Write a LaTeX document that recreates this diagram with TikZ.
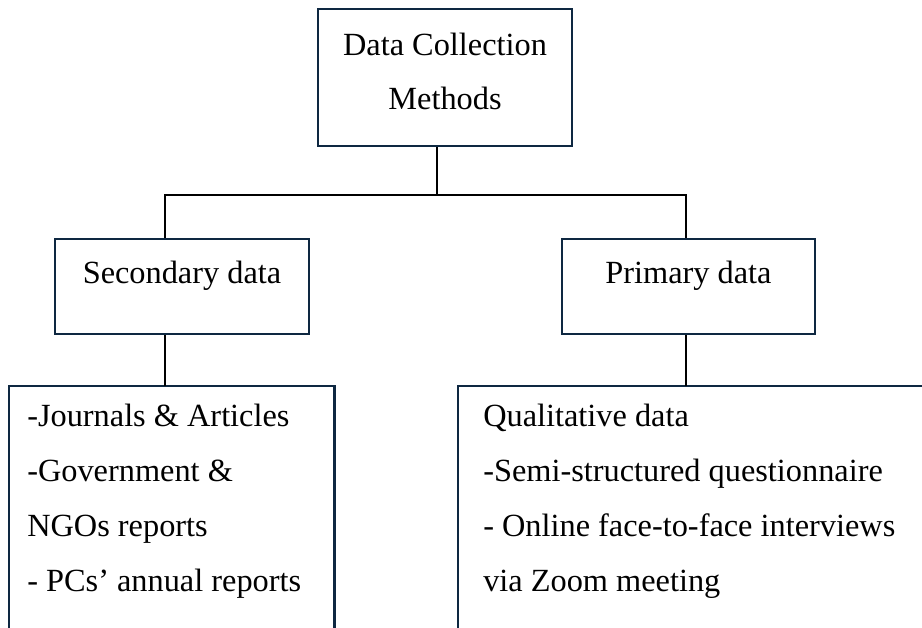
\documentclass[tikz,border=0pt]{standalone}
\usepackage{fontspec}
\setmainfont{Liberation Serif}
\usepackage{tikz}
\usetikzlibrary{positioning, calc}
\definecolor{BoxNavy}{HTML}{0E2841}

\begin{document}
\begin{tikzpicture}[node distance=1cm]
        \tikzstyle{head}  = [rectangle, draw=BoxNavy, line width=1.8pt, minimum width=6.35cm, inner ysep=0pt, text height=2.5cm, text depth=0.925cm, align=center, font=\fontsize{23}{38}\selectfont]
        \tikzstyle{kind}  = [rectangle, draw=BoxNavy, line width=1.8pt, minimum width=6.35cm, inner ysep=0pt, text height=1.1cm, text depth=1.275cm, font=\fontsize{23}{38}\selectfont]
        \tikzstyle{items} = [rectangle, anchor=north west, inner xsep=0.45cm, inner ysep=0.45cm, align=left, execute at begin node={\spaceskip=0pt\relax}, font=\fontsize{23}{39}\selectfont]
        \tikzstyle{frame} = [draw=BoxNavy, line width=1.8pt]
        \tikzstyle{link}  = [draw=black, line width=1.3pt]

        \useasboundingbox (0,0) rectangle (23.05,-15.7);

        % Boxes
        \node[head] (dcm) at (11.125,-1.9375) {Data Collection\\ Methods};
        \node[kind] (sec) at (4.55,-7.1625) {Secondary data};
        \node[kind, minimum width=6.325cm] (prim) at (17.2125,-7.1625) {Primary data};

        % Open lists at the bottom
        \node[items, text width=7.225cm] (slist) at (0.225,-9.65) {-Journals \& Articles\\ -Government \&\\ NGOs reports\\ - PCs’ annual reports};
        \node[items, inner xsep=0.625cm, text width=11.25cm] (plist) at (11.45,-9.65) {Qualitative data\\ -Semi-structured questionnaire\\ - Online face-to-face interviews\\ via Zoom meeting};
        \draw[frame] ([yshift=-7cm]slist.north west) -- (slist.north west) -- (slist.north east) -- ([yshift=-7cm]slist.north east);
        \draw[frame] ([yshift=-7cm]plist.north west) -- (plist.north west) -- (plist.north east);

        % Connectors
        \coordinate (fork) at (10.925,-4.875);
        \coordinate (sdrop) at ([xshift=-0.425cm]sec.south);
        \coordinate (pdrop) at ([xshift=-0.0625cm]prim.south);
        \draw[link] (fork |- dcm.south) -- (fork);
        \draw[link] ([xshift=-0.425cm]sec.north) |- (fork) -| ([xshift=-0.0625cm]prim.north);
        \draw[link] (sdrop) -- (sdrop |- slist.north);
        \draw[link] (pdrop) -- (pdrop |- plist.north);
    \end{tikzpicture}
\end{document}
